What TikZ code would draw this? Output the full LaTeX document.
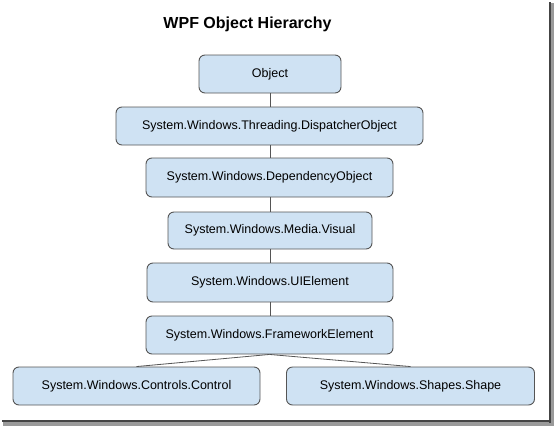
\documentclass[tikz,border=0pt]{standalone}
\usepackage{fontspec}
\setmainfont{Liberation Sans}
\definecolor{boxfill}{HTML}{CFE2F3}
\definecolor{boxline}{HTML}{555555}
\definecolor{shadowdark}{HTML}{444444}
\definecolor{shadowlight}{HTML}{9A9A9A}
\begin{document}
\begin{tikzpicture}[x=1pt,y=-1pt,
  cls/.style={draw=boxline, fill=boxfill, line width=0.9pt, rounded corners=6pt,
    minimum height=38pt, inner sep=0pt, font=\fontsize{12.5}{14}\selectfont, text=black},
  link/.style={draw=boxline, line width=0.8pt}]
\useasboundingbox (0,0) rectangle (554,426);
% frame shadow (right and bottom)
\fill[shadowlight] (550,3) rectangle (554,426);
\fill[shadowlight] (3,421) rectangle (554,426);
\fill[shadowdark] (548.5,2) rectangle (551,423);
\fill[shadowdark] (2,419.5) rectangle (551,422);
% title
\node[anchor=base, font=\fontsize{16}{18}\selectfont\bfseries] (title) at (247.5,28) {WPF Object Hierarchy};
% boxes
\node[cls, minimum width=142pt] (obj) at (270,74) {Object};
\node[cls, minimum width=307pt] (disp) at (269.5,126) {System.Windows.Threading.DispatcherObject};
\node[cls, minimum width=247pt, minimum height=39pt] (dep) at (269.5,177.5) {System.Windows.DependencyObject};
\node[cls, minimum width=204pt, minimum height=37pt] (vis) at (270,230.5) {System.Windows.Media.Visual};
\node[cls, minimum width=246pt, minimum height=39pt] (ui) at (270,282.5) {System.Windows.UIElement};
\node[cls, minimum width=247pt] (fe) at (269.5,335) {System.Windows.FrameworkElement};
\node[cls, minimum width=247pt] (ctl) at (136.5,386) {System.Windows.Controls.Control};
\node[cls, minimum width=248pt] (shp) at (410.5,386) {System.Windows.Shapes.Shape};
% connectors
\draw[link] (obj.south) -- (obj.south |- disp.north);
\draw[link] (obj.south |- disp.south) -- (obj.south |- dep.north);
\draw[link] (obj.south |- dep.south) -- (obj.south |- vis.north);
\draw[link] (vis.south) -- (vis.south |- ui.north);
\draw[link] (vis.south |- ui.south) -- (vis.south |- fe.north);
\draw[link] (fe.south) -- (ctl.north);
\draw[link] (fe.south) -- (shp.north);
\end{tikzpicture}
\end{document}
